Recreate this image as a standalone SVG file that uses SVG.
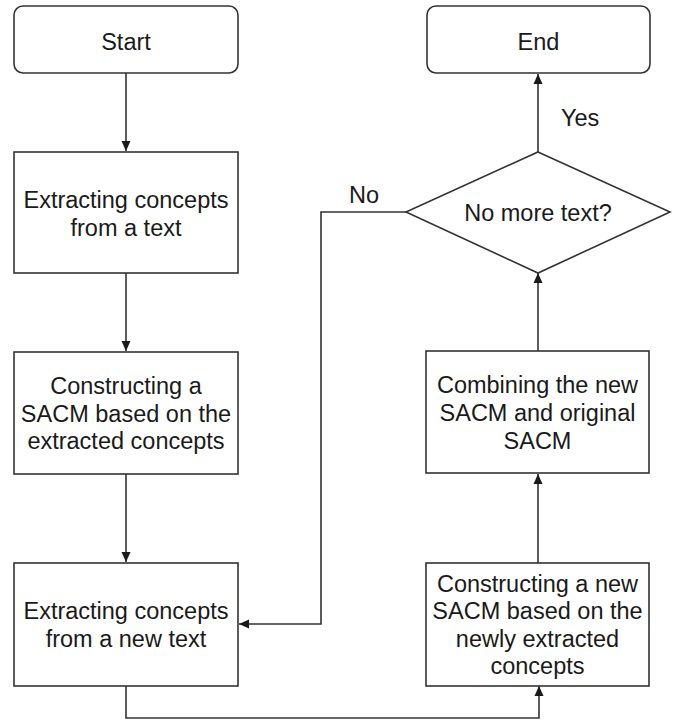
<svg xmlns="http://www.w3.org/2000/svg" width="678" height="723" viewBox="0 0 678 723">
<defs>
<marker id="arr" markerUnits="userSpaceOnUse" markerWidth="10" markerHeight="10" viewBox="0 0 10 10" refX="10" refY="5" orient="auto">
<path d="M0,0.5 L10,5 L0,9.5 z" fill="#1a1a1a"/>
</marker>
<style>
.box{fill:#fff;stroke:#333;stroke-width:1.6}
.t{font-family:"Liberation Sans",Arial,sans-serif;font-size:23.5px;fill:#1a1a1a;text-anchor:middle}
.lbl{font-family:"Liberation Sans",Arial,sans-serif;font-size:23.5px;fill:#1a1a1a}
.c{fill:none;stroke:#333;stroke-width:1.6;marker-end:url(#arr)}
.cn{fill:none;stroke:#333;stroke-width:1.6}
</style>
</defs>
<rect width="678" height="723" fill="#fff"/>
<g id="connectors">
<path class="c" d="M126,73 V151"/>
<path class="c" d="M126,273 V351"/>
<path class="c" d="M126,474 V562"/>
<path class="c" d="M126,686 V718 H539 V686"/>
<path class="c" d="M538,563 V474"/>
<path class="c" d="M538,351 V273"/>
<path class="c" d="M538,152 V74"/>
<path class="c" d="M406,212 H321 V624 H239"/>
<text class="lbl" x="349" y="203">No</text>
<text class="lbl" x="561" y="126">Yes</text>
</g>
<g id="start">
<rect class="box" x="14" y="6" width="224" height="67" rx="9"/>
<text class="t" x="126" y="50">Start</text>
</g>
<g id="end">
<rect class="box" x="427" y="6" width="223" height="67" rx="9"/>
<text class="t" x="538.5" y="50">End</text>
</g>
<g id="extract1">
<rect class="box" x="14" y="152" width="224" height="121"/>
<text class="t" x="126" y="208">Extracting concepts</text>
<text class="t" x="126" y="235.5">from a text</text>
</g>
<g id="construct1">
<rect class="box" x="14" y="352" width="224" height="122"/>
<text class="t" x="126" y="394">Constructing a</text>
<text class="t" x="126" y="421.5">SACM based on the</text>
<text class="t" x="126" y="449">extracted concepts</text>
</g>
<g id="extract2">
<rect class="box" x="14" y="563" width="224" height="123"/>
<text class="t" x="126" y="619">Extracting concepts</text>
<text class="t" x="126" y="647">from a new text</text>
</g>
<g id="construct2">
<rect class="box" x="426" y="563" width="223" height="123"/>
<text class="t" x="537.5" y="591.5">Constructing a new</text>
<text class="t" x="537.5" y="619">SACM based on the</text>
<text class="t" x="537.5" y="646.5">newly extracted</text>
<text class="t" x="537.5" y="674">concepts</text>
</g>
<g id="combine">
<rect class="box" x="426" y="351" width="223" height="122"/>
<text class="t" x="537.5" y="393">Combining the new</text>
<text class="t" x="537.5" y="420.5">SACM and original</text>
<text class="t" x="537.5" y="449">SACM</text>
</g>
<g id="decision">
<polygon class="box" points="538,152 670,212 538,273 406,212"/>
<text class="t" x="538" y="220.5">No more text?</text>
</g>
</svg>
